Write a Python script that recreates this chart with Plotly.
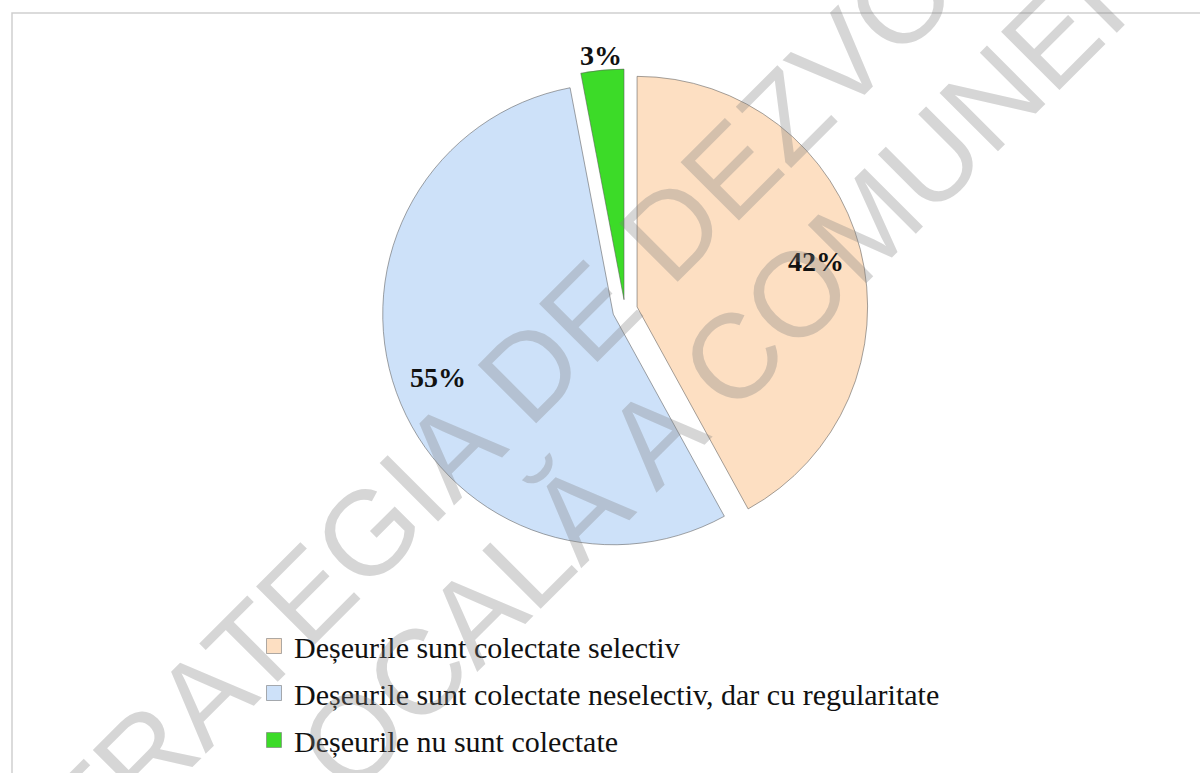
import math
import plotly.graph_objects as go

# ---- data ----
categories = [
    "Deșeurile sunt colectate selectiv",
    "Deșeurile sunt colectate neselectiv, dar cu regularitate",
    "Deșeurile nu sunt colectate",
]
values = [42, 55, 3]
colors = ["#FDDFC2", "#CDE1F9", "#3CDB28"]
pulls = [0.054, 0.054, 0.045]
label_radius = [0.80, 0.81, 1.065]   # fraction of pie radius where the % label sits
watermark_lines = ["STRATEGIA DE DEZVOLTARE", "LOCALĂ A COMUNEI"]

W, H = 1200, 773

# pie geometry (pixels)
cx, cy, half = 625, 310, 243
r = half / (1 + max(pulls))

fig = go.Figure()
fig.add_trace(go.Pie(
    labels=categories,
    values=values,
    sort=False,
    direction="clockwise",
    rotation=0,
    pull=pulls,
    marker=dict(colors=colors, line=dict(color="rgba(90,90,90,0.55)", width=1)),
    textinfo="none",
    domain=dict(x=[(cx - half) / W, (cx + half) / W],
                y=[1 - (cy + half) / H, 1 - (cy - half) / H]),
    showlegend=False,
    hoverinfo="label+percent",
))

# percentage labels placed from the data (mid-angle of every slice)
total = sum(values)
cum = 0
for v, p, lr in zip(values, pulls, label_radius):
    mid = (cum + v / 2) / total * 2 * math.pi
    cum += v
    dist = (lr + p) * r
    px = cx + dist * math.sin(mid)
    py = cy - dist * math.cos(mid)
    fig.add_annotation(
        x=px / W, y=1 - py / H, xref="paper", yref="paper",
        text=f"<b>{round(v / total * 100)}%</b>", showarrow=False,
        font=dict(family="Liberation Serif", size=28, color="#111111"),
        xanchor="center", yanchor="middle",
    )

# legend entries (one group per category so spacing can be set)
for name, col in zip(categories, colors):
    fig.add_trace(go.Scatter(
        x=[None], y=[None], mode="markers", name=name,
        legendgroup=name,
        marker=dict(symbol="square", size=15, color=col,
                    line=dict(color="rgba(120,120,120,0.6)", width=1)),
        hoverinfo="skip",
    ))

# watermark
wm_pos = [(600, 300), (688, 402)]
for txt, (px, py) in zip(watermark_lines, wm_pos):
    fig.add_annotation(
        x=px / W, y=1 - py / H, xref="paper", yref="paper",
        text=txt, showarrow=False, textangle=-45,
        font=dict(family="Liberation Sans", size=120, color="rgba(128,128,128,0.32)"),
        xanchor="center", yanchor="middle",
    )

# border
fig.add_shape(type="rect", xref="paper", yref="paper",
              x0=12 / W, y0=1 - 13 / H, x1=1.02, y1=-0.02,
              line=dict(color="#CFCFCF", width=1.5), fillcolor="rgba(0,0,0,0)",
              layer="below")

fig.update_layout(
    width=W, height=H,
    margin=dict(l=0, r=0, t=0, b=0),
    paper_bgcolor="white", plot_bgcolor="white",
    xaxis=dict(visible=False), yaxis=dict(visible=False),
    showlegend=True,
    legend=dict(
        x=254 / W, y=1 - 620 / H, xanchor="left", yanchor="top",
        font=dict(family="Liberation Serif", size=30, color="#111111"),
        tracegroupgap=5, traceorder="grouped",
        bgcolor="rgba(0,0,0,0)",
    ),
)

fig.write_html("out.html", config={"displayModeBar": False},
               post_script="document.body.style.margin='0';document.body.style.overflow='hidden';")
